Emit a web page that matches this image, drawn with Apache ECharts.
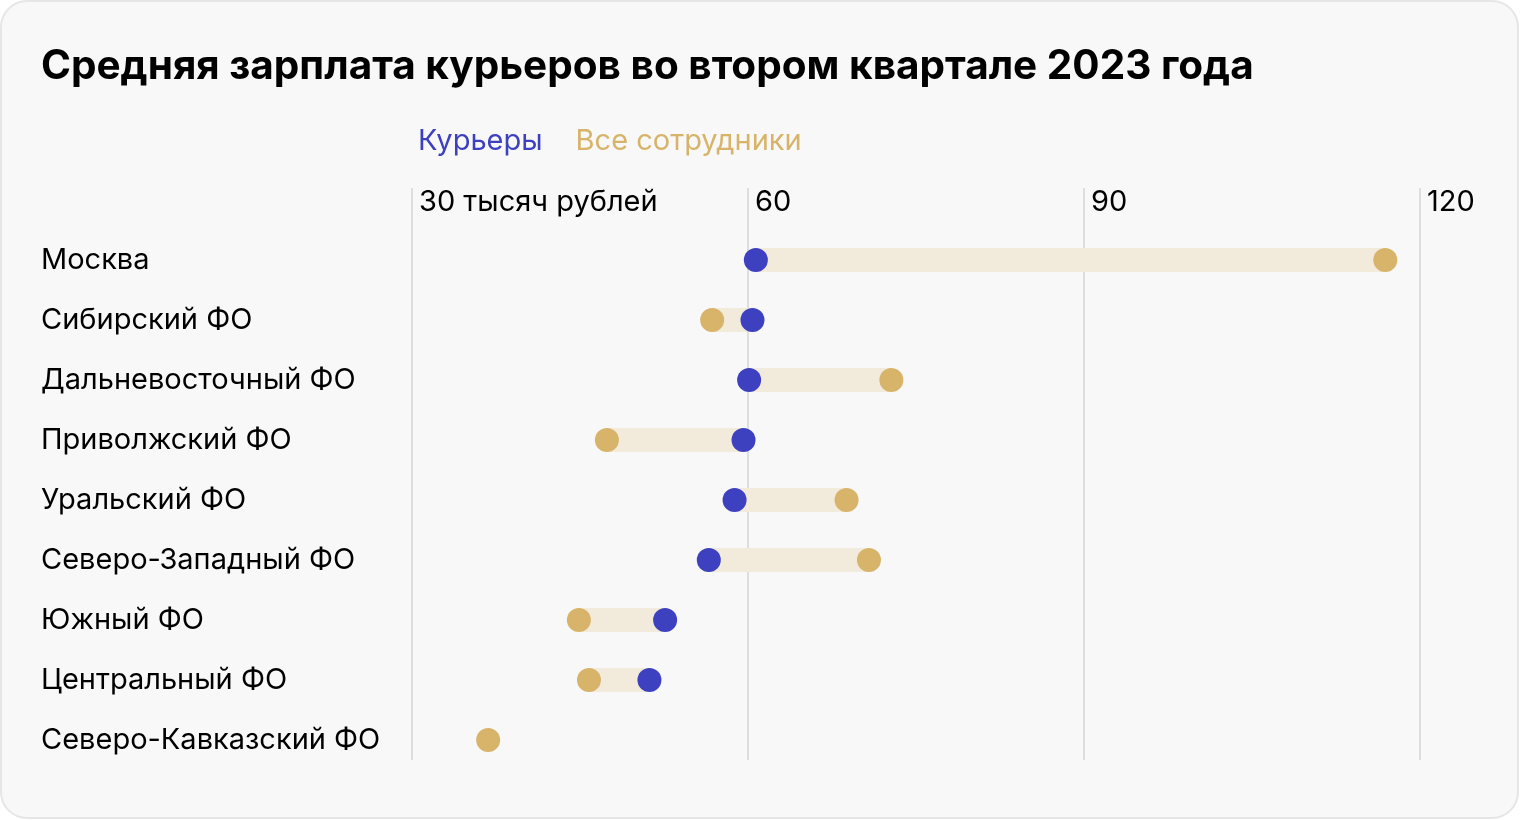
<!DOCTYPE html>
<html><head><meta charset="utf-8">
<script src="https://cdn.jsdelivr.net/npm/echarts@6/dist/echarts.min.js"></script>
<style>html,body{margin:0;padding:0;background:#fff}#c{width:1520px;height:820px}</style>
</head><body><div id="c"></div>
<script>
const regions = ['Москва','Сибирский ФО','Дальневосточный ФО','Приволжский ФО','Уральский ФО','Северо-Западный ФО','Южный ФО','Центральный ФО','Северо-Кавказский ФО'];
const couriers = [60.7, 60.4, 60.1, 59.6, 58.8, 56.5, 52.6, 51.2, null];
const allStaff = [116.9, 56.8, 72.8, 47.4, 68.8, 70.8, 44.9, 45.8, 36.8];
const xTicks = [30, 60, 90, 120];
const titleText = 'Средняя зарплата курьеров во втором квартале 2023 года';

const FONT = 'Inter';
const rangeData = regions.map((r, i) => couriers[i] == null ? null : [Math.min(couriers[i], allStaff[i]), Math.max(couriers[i], allStaff[i]), i]).filter(d => d);

const chart = echarts.init(document.getElementById('c'), null, {renderer: 'canvas'});
chart.setOption({
  animation: false,
  backgroundColor: '#ffffff',
  textStyle: {fontFamily: FONT},
  graphic: [{
    type: 'rect', z: -10, silent: true,
    shape: {x: 1, y: 1, width: 1517, height: 817, r: 26},
    style: {fill: '#f8f8f8', stroke: '#e6e6e6', lineWidth: 2}
  }],
  title: {
    text: titleText, left: 41, top: 46, padding: 0,
    textStyle: {fontFamily: FONT, fontWeight: 'bold', fontSize: 40.5, color: '#000'}
  },
  legend: {
    left: 413, top: 127, padding: 0, icon: 'none', itemWidth: 0, itemGap: 28,
    selectedMode: false,
    textStyle: {fontFamily: FONT, fontSize: 29},
    data: [
      {name: 'Курьеры', textStyle: {color: '#3d41bf'}},
      {name: 'Все сотрудники', textStyle: {color: '#d8b46a'}}
    ]
  },
  grid: [
    {left: 412, right: 100, top: 188, height: 572},
    {left: 412, right: 100, top: 230, height: 540}
  ],
  xAxis: [
    {gridIndex: 0, type: 'value', min: 30, max: 120, interval: 30, position: 'top',
     axisLine: {show: false}, axisTick: {show: false},
     splitLine: {show: true, lineStyle: {color: '#dedede', width: 2}},
     axisLabel: {inside: true, align: 'left', margin: 0, padding: [0,0,0,7], verticalAlign: 'top',
       fontFamily: FONT, fontSize: 29, color: '#000',
       formatter: v => v === xTicks[0] ? v + ' тысяч рублей' : String(v)}},
    {gridIndex: 1, type: 'value', min: 30, max: 120, interval: 30, show: false}
  ],
  yAxis: [
    {gridIndex: 0, type: 'value', show: false},
    {gridIndex: 1, type: 'category', inverse: true, data: regions,
     axisLine: {show: false}, axisTick: {show: false}, splitLine: {show: false},
     axisLabel: {align: 'left', margin: 371, padding: [6,0,0,0], fontFamily: FONT, fontSize: 29, color: '#000'}}
  ],
  series: [
    {type: 'custom', xAxisIndex: 1, yAxisIndex: 1, z: 1, silent: true,
     encode: {x: [0, 1], y: 2},
     data: rangeData,
     renderItem: (params, api) => {
       const a = api.coord([api.value(0), api.value(2)]);
       const b = api.coord([api.value(1), api.value(2)]);
       return {type: 'rect', shape: {x: a[0], y: a[1] - 12, width: b[0] - a[0], height: 24},
               style: {fill: '#f2eadb'}};
     }},
    {name: 'Все сотрудники', type: 'scatter', xAxisIndex: 1, yAxisIndex: 1, z: 3,
     symbolSize: 24, itemStyle: {color: '#d8b46a', opacity: 1},
     data: allStaff.map((v, i) => [v, i])},
    {name: 'Курьеры', type: 'scatter', xAxisIndex: 1, yAxisIndex: 1, z: 4,
     symbolSize: 24, itemStyle: {color: '#3d41bf', opacity: 1},
     data: couriers.map((v, i) => v == null ? null : [v, i]).filter(d => d)}
  ]
});
</script></body></html>
